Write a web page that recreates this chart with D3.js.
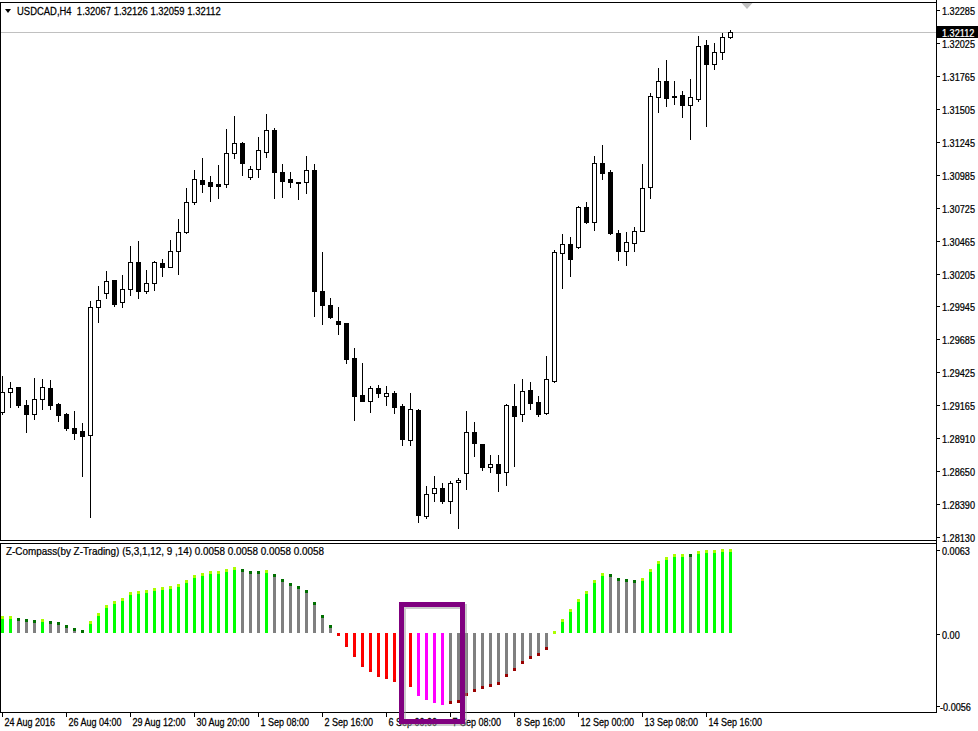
<!DOCTYPE html>
<html><head><meta charset="utf-8">
<script src="https://cdn.jsdelivr.net/npm/d3@7"></script>
<style>
body{margin:0;background:#fff;}
svg{display:block;}
text{font-family:"Liberation Sans",Arial,sans-serif;font-size:11px;fill:#000;}
</style></head>
<body><svg id="chart" width="978" height="731"></svg>
<script>
// ---------- DATA ----------
const symbol = "USDCAD,H4";
const openP  = [1.29111,1.29269,1.29308,1.29168,1.29095,1.29213,1.29300,1.29176,1.29098,1.28985,1.28963,1.28934,1.29939,1.30049,1.30154,1.29978,1.30081,1.30294,1.30070,1.30128,1.30290,1.30259,1.30380,1.30532,1.30767,1.30942,1.30927,1.30911,1.30909,1.31153,1.31236,1.30968,1.31027,1.31165,1.31337,1.31008,1.30948,1.30924,1.30924,1.31021,1.30065,1.29957,1.29831,1.29813,1.29537,1.29247,1.29202,1.29300,1.29242,1.29261,1.29161,1.28893,1.29129,1.28296,1.28472,1.28512,1.28414,1.28559,1.28630,1.28953,1.28859,1.28682,1.28701,1.28638,1.29158,1.29095,1.29287,1.29190,1.29103,1.29360,1.30369,1.30438,1.30417,1.30727,1.30614,1.31074,1.31005,1.30522,1.30385,1.30443,1.30543,1.30885,1.31599,1.31723,1.31600,1.31610,1.31531,1.31581,1.32004,1.31855,1.31949,1.32067];
const highP  = [1.29400,1.29352,1.29310,1.29208,1.29379,1.29373,1.29366,1.29184,1.29108,1.29121,1.29027,1.29988,1.30107,1.30225,1.30156,1.30193,1.30422,1.30461,1.30233,1.30306,1.30320,1.30469,1.30633,1.30877,1.31021,1.31113,1.30974,1.31061,1.31344,1.31447,1.31240,1.31053,1.31284,1.31463,1.31355,1.31069,1.31003,1.30929,1.31134,1.31069,1.30376,1.30014,1.29943,1.29815,1.29620,1.29497,1.29318,1.29326,1.29318,1.29279,1.29176,1.29261,1.29135,1.28530,1.28609,1.28551,1.28569,1.28591,1.29121,1.29034,1.28862,1.28774,1.28774,1.29173,1.29334,1.29373,1.29347,1.29239,1.29555,1.30391,1.30517,1.30495,1.30740,1.30769,1.31134,1.31218,1.31021,1.30548,1.30535,1.30574,1.31066,1.31626,1.31828,1.31888,1.31725,1.31646,1.31739,1.32080,1.32046,1.32020,1.32099,1.32126];
const lowP   = [1.29098,1.29155,1.29155,1.28958,1.29060,1.29137,1.29137,1.29045,1.28971,1.28900,1.28611,1.28288,1.29825,1.30010,1.29949,1.29943,1.30036,1.30014,1.30054,1.30075,1.30186,1.30255,1.30201,1.30528,1.30751,1.30850,1.30779,1.30803,1.30890,1.31113,1.30978,1.30948,1.30968,1.31126,1.30803,1.30811,1.30885,1.30793,1.30838,1.29873,1.29809,1.29854,1.29728,1.29502,1.29050,1.29200,1.29116,1.29234,1.29168,1.29108,1.28853,1.28853,1.28244,1.28278,1.28412,1.28398,1.28319,1.28201,1.28509,1.28766,1.28656,1.28643,1.28493,1.28538,1.28688,1.29045,1.29137,1.29084,1.29098,1.29352,1.30089,1.30186,1.30409,1.30601,1.30548,1.30948,1.30514,1.30312,1.30272,1.30385,1.30540,1.30798,1.31481,1.31526,1.31542,1.31441,1.31268,1.31568,1.31371,1.31820,1.31899,1.32059];
const closeP = [1.29269,1.29300,1.29168,1.29095,1.29213,1.29308,1.29171,1.29092,1.28990,1.28950,1.28926,1.29943,1.29996,1.30146,1.29967,1.30083,1.30294,1.30070,1.30128,1.30294,1.30259,1.30380,1.30532,1.30767,1.30948,1.30913,1.30897,1.30897,1.31153,1.31232,1.31074,1.31027,1.31177,1.31334,1.31008,1.30937,1.30924,1.30922,1.31021,1.30070,1.29958,1.29865,1.29809,1.29534,1.29242,1.29202,1.29300,1.29261,1.29261,1.29155,1.28900,1.29135,1.28301,1.28464,1.28512,1.28414,1.28551,1.28575,1.28953,1.28867,1.28682,1.28701,1.28635,1.29168,1.29084,1.29279,1.29187,1.29098,1.29371,1.30372,1.30438,1.30320,1.30727,1.30614,1.31074,1.31001,1.30522,1.30385,1.30451,1.30540,1.30877,1.31605,1.31723,1.31591,1.31602,1.31531,1.31594,1.31996,1.31855,1.31949,1.32067,1.32112];
const priceTicks = [1.32285,1.32025,1.31765,1.31505,1.31245,1.30985,1.30725,1.30465,1.30205,1.29945,1.29685,1.29425,1.29165,1.28910,1.28650,1.28390,1.28130];
const timeLabels = ["24 Aug 2016","26 Aug 04:00","29 Aug 12:00","30 Aug 20:00","1 Sep 08:00","2 Sep 16:00","6 Sep 00:00","7 Sep 08:00","8 Sep 16:00","12 Sep 00:00","13 Sep 08:00","14 Sep 16:00"];
const timeLabelBars = [0,8,16,24,32,40,48,56,64,72,80,88];

const indName = "Z-Compass(by Z-Trading) (5,3,1,12, 9 ,14)";
const zValues = [0.00110,0.00112,0.00100,0.00091,0.00082,0.00091,0.00074,0.00068,0.00046,0.00028,0.00014,0.00077,0.00134,0.00191,0.00218,0.00240,0.00282,0.00289,0.00296,0.00310,0.00317,0.00324,0.00338,0.00366,0.00402,0.00416,0.00429,0.00428,0.00443,0.00457,0.00446,0.00429,0.00431,0.00434,0.00405,0.00374,0.00347,0.00321,0.00297,0.00211,0.00122,0.00051,-0.00012,-0.00089,-0.00165,-0.00231,-0.00271,-0.00300,-0.00320,-0.00341,-0.00364,-0.00376,-0.00434,-0.00465,-0.00489,-0.00503,-0.00491,-0.00486,-0.00437,-0.00408,-0.00388,-0.00376,-0.00359,-0.00303,-0.00260,-0.00211,-0.00176,-0.00158,-0.00111,0.00005,0.00094,0.00159,0.00234,0.00291,0.00363,0.00416,0.00405,0.00382,0.00370,0.00363,0.00379,0.00441,0.00497,0.00525,0.00549,0.00549,0.00547,0.00568,0.00574,0.00574,0.00582,0.00582];
// state per bar: up = rising (green), down = weakening (gray), bear = red, strong = magenta
const zState = ["up","up","down","down","down","up","down","down","down","down","down",
  "up","up","up","up","up","up","up","up","up","up","up","up","up","up","up","up","up","up","up",
  "down","down","down","up","down","down","down","down","down","down","down","down",
  "bear","bear","bear","bear","bear","bear","bear","bear","bear","bear",
  "strong","strong","strong","strong",
  "down","down","down","down","down","down","down","down","down","down","down","down","down",
  "up","up","up","up","up","up","up",
  "down","down","down","down",
  "up","up","up","up","up","up","down","up","up","up","up","up"];
const zTicks = [0.0063, 0, -0.0056];
const highlight = {from: 50, to: 57};

// ---------- LAYOUT ----------
const svg = d3.select("#chart");
const W = 978, axisX = 936;
const mainTop = 2, mainBottom = 540, indTop = 543, indBottom = 712;
const n = closeP.length;
const x = d3.scaleLinear().domain([0, n - 1]).range([2.5, 2.5 + 8 * (n - 1)]);
const y = d3.scaleLinear().domain([1.28130, 1.32285]).range([536.7, 9.7]);
const yz = d3.scaleLinear().domain([-0.0056, 0.0063]).range([indBottom + 0.5, indTop + 0.5]);
const py = v => Math.round(y(v)) + 0.5;

// narrow (Tahoma-like) text helper
function label(parent, tx, ty, str, sx, fill) {
  const f = fill || "#000";
  return parent.append("text")
    .attr("transform", `translate(${tx},${ty}) scale(${sx},1)`)
    .style("white-space", "pre").style("fill", f)
    .style("stroke", f).style("stroke-width", "0.25px").text(str);
}

svg.append("rect").attr("width", W).attr("height", 731).attr("fill", "#fff");

// frames
const frame = svg.append("g").attr("shape-rendering", "crispEdges").attr("stroke", "#000").attr("fill", "none");
frame.append("rect").attr("x", 0.5).attr("y", mainTop + 0.5).attr("width", axisX).attr("height", mainBottom - mainTop);
frame.append("rect").attr("x", 0.5).attr("y", indTop + 0.5).attr("width", axisX).attr("height", indBottom - indTop);

// bid line
svg.append("line").attr("x1", 1).attr("x2", axisX).attr("y1", py(closeP[n-1])).attr("y2", py(closeP[n-1]))
  .attr("stroke", "#c0c0c0").attr("shape-rendering", "crispEdges");

// shift marker
svg.append("path").attr("d", `M${x(93)-5},${mainTop+1}L${x(93)+6},${mainTop+1}L${x(93)+0.5},${mainTop+7}Z`).attr("fill", "#c0c0c0");

// candles
const cg = svg.append("g").attr("shape-rendering", "crispEdges");
d3.range(n).forEach(i => {
  const cx = x(i), o = openP[i], c = closeP[i];
  cg.append("line").attr("x1", cx).attr("x2", cx).attr("y1", py(highP[i]) - 0.5).attr("y2", py(lowP[i]) + 0.5)
    .attr("stroke", "#000");
  const top = Math.min(py(o), py(c)), bot = Math.max(py(o), py(c));
  if (bot - top < 1) {
    cg.append("line").attr("x1", cx - 2).attr("x2", cx + 3).attr("y1", top).attr("y2", top).attr("stroke", "#000");
  } else {
    cg.append("rect").attr("x", cx - 2).attr("y", top).attr("width", 4).attr("height", bot - top)
      .attr("fill", c >= o ? "#fff" : "#000").attr("stroke", "#000");
  }
});

// header
svg.append("path").attr("d", "M5,9L11,9L8,13Z").attr("fill", "#000");
label(svg, 17, 15, `${symbol}  ${openP[n-1].toFixed(5)} ${highP[n-1].toFixed(5)} ${lowP[n-1].toFixed(5)} ${closeP[n-1].toFixed(5)}`, 0.86);

// price axis
const ax = svg.append("g");
ax.append("line").attr("x1", axisX + 0.5).attr("x2", axisX + 0.5).attr("y1", 0).attr("y2", indBottom + 1)
  .attr("stroke", "#000").attr("shape-rendering", "crispEdges");
priceTicks.forEach(v => {
  const ty = py(v);
  ax.append("line").attr("x1", axisX).attr("x2", axisX + 4).attr("y1", ty).attr("y2", ty).attr("stroke", "#000").attr("shape-rendering", "crispEdges");
  label(ax, 942, ty + 4, v.toFixed(5), 0.83);
});
// current price label
const cy = py(closeP[n-1]);
ax.append("rect").attr("x", axisX + 1).attr("y", cy - 6.5).attr("width", W - axisX - 1).attr("height", 12).attr("fill", "#000");
label(ax, 942, cy + 4, closeP[n-1].toFixed(5), 0.83, "#fff");

// indicator
const colorOf = {up: "#00ff00", down: "#808080", bear: "#ff0000", strong: "#ff00ff"};
const tipPos = {up: "#aaff00", down: "#007000", bear: "#ff0000", strong: "#ff00ff"};
const tipNeg = {up: "#aaff00", down: "#990000", bear: "#ee0000", strong: "#ff00ff"};
const ig = svg.append("g").attr("shape-rendering", "crispEdges");
const z0 = Math.round(yz(0));
zValues.forEach((v, i) => {
  const yv = Math.round(yz(v));
  const t = Math.min(z0, yv), b = Math.max(z0, yv);
  ig.append("rect").attr("x", x(i) - 1.5).attr("y", t).attr("width", 3).attr("height", Math.max(1, b - t))
    .attr("fill", colorOf[zState[i]]);
  ig.append("rect").attr("x", x(i) - 1.5).attr("y", v >= 0 ? yv - 1 : yv - 2).attr("width", 3).attr("height", 3)
    .attr("fill", (v >= 0 ? tipPos : tipNeg)[zState[i]]);
});
label(svg, 6, 555, `${indName} ${zValues[n-1].toFixed(4)} ${zValues[n-1].toFixed(4)} ${zValues[n-1].toFixed(4)} ${zValues[n-1].toFixed(4)}`, 0.9);
// indicator axis
const zLabelY = [indTop + 6.5, z0 + 0.5, indBottom - 6.5];
zTicks.forEach((v, k) => {
  const ty = Math.round(zLabelY[k]) + 0.5;
  ax.append("line").attr("x1", axisX).attr("x2", axisX + 4).attr("y1", ty).attr("y2", ty).attr("stroke", "#000").attr("shape-rendering", "crispEdges");
  label(ax, v < 0 ? 940 : 942, ty + 4, v === 0 ? "0.00" : v.toFixed(4), 0.83);
});

// time axis
timeLabelBars.forEach((b, k) => {
  const tx = Math.round(x(b)) - 0.5;
  ax.append("line").attr("x1", tx).attr("x2", tx).attr("y1", indBottom).attr("y2", indBottom + 5).attr("stroke", "#000").attr("shape-rendering", "crispEdges");
  label(ax, tx + 2, 726, timeLabels[k], 0.82);
});

// highlight box
const hx0 = x(highlight.from) - 1, hx1 = x(highlight.to) + 4;
svg.append("rect").attr("x", hx0 + 2).attr("y", 604.5 + 2).attr("width", hx1 - hx0).attr("height", 117)
  .attr("fill", "none").attr("stroke", "#999").attr("stroke-width", 5).attr("opacity", 0.5);
svg.append("rect").attr("x", hx0).attr("y", 604.5).attr("width", hx1 - hx0).attr("height", 117)
  .attr("fill", "none").attr("stroke", "#7f007f").attr("stroke-width", 5);
</script></body></html>
